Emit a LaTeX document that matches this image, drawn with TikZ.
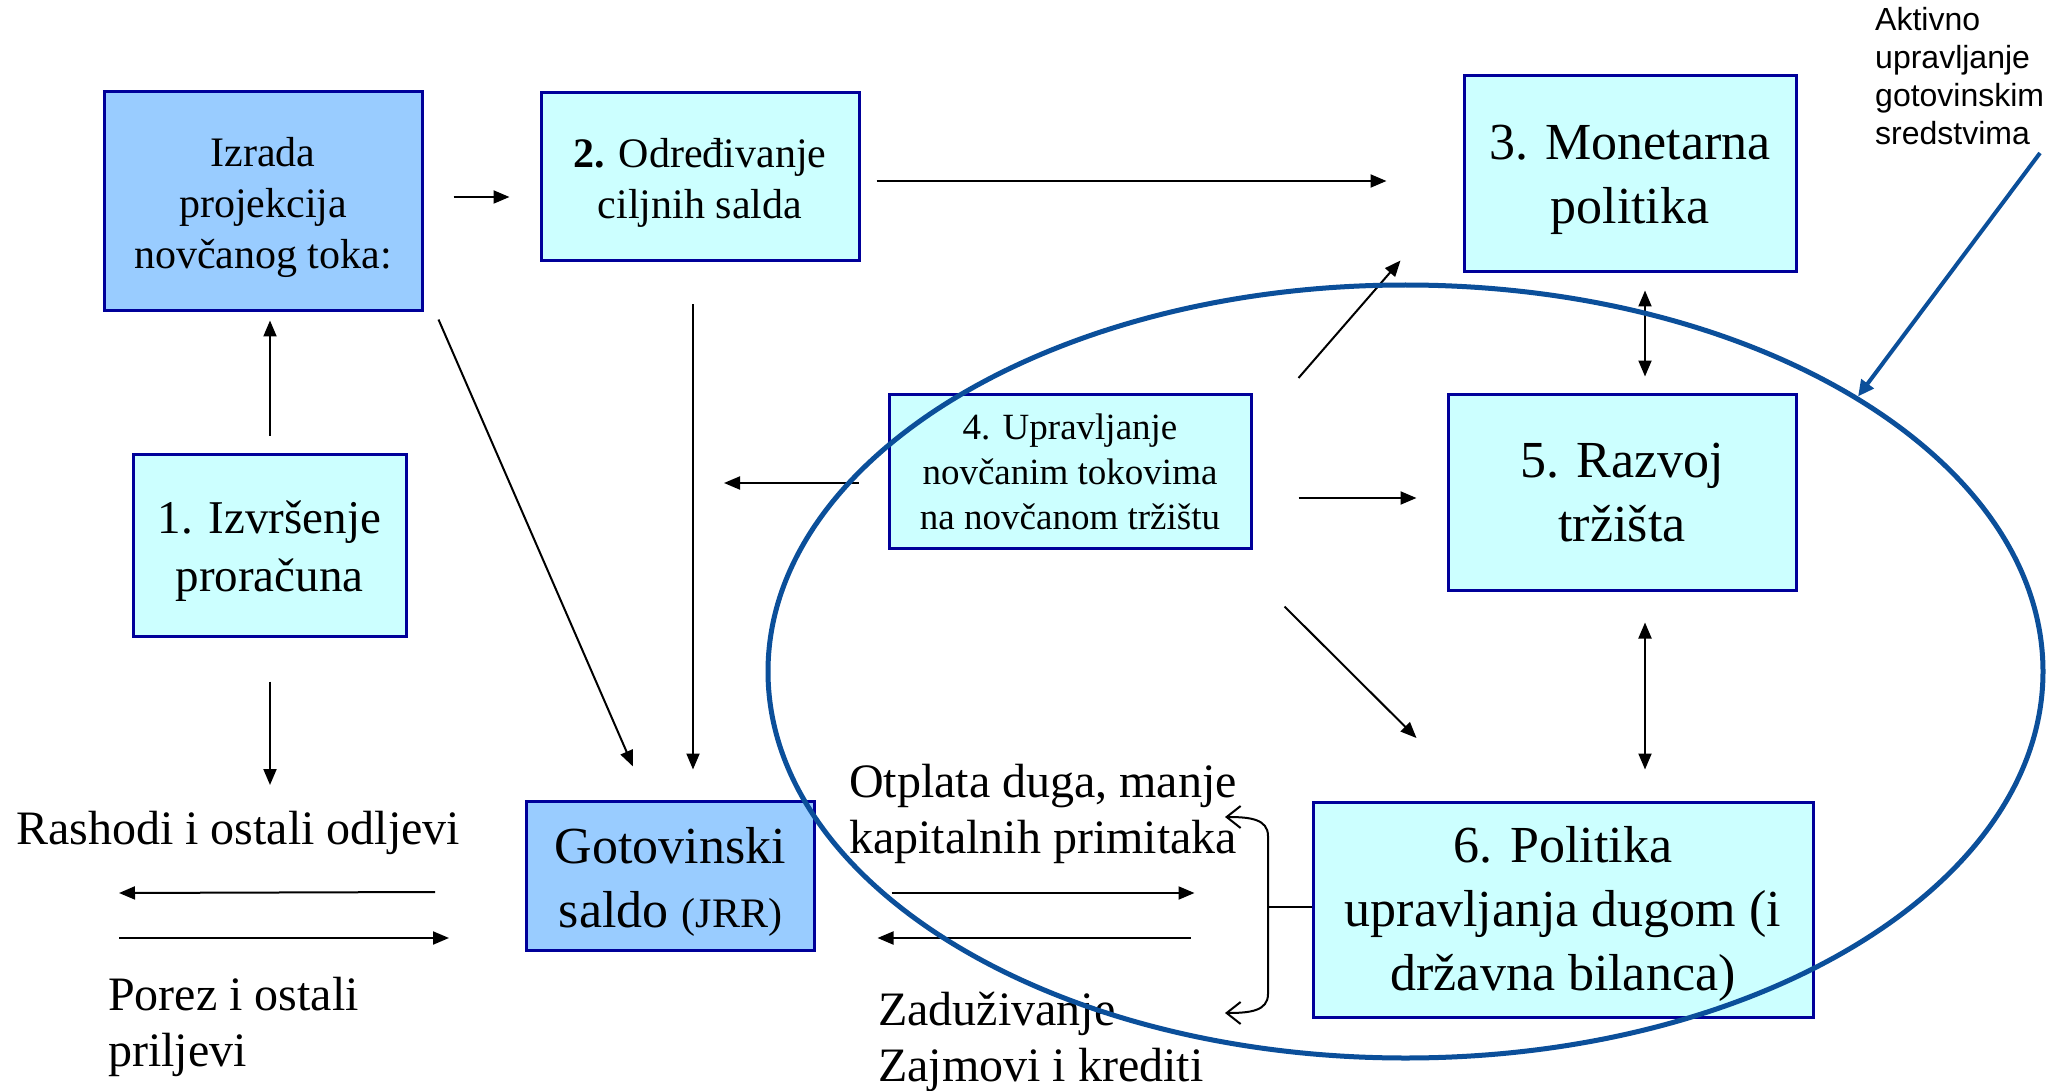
\documentclass[tikz,border=0pt]{standalone}
\usepackage{fontspec}
\setmainfont{Liberation Serif}
\newfontfamily\arialf{Liberation Sans}
\usetikzlibrary{arrows.meta,shapes.geometric}
\definecolor{boxcyan}{HTML}{CCFFFF}
\definecolor{boxblue}{HTML}{99CCFF}
\definecolor{boxline}{HTML}{000099}
\definecolor{ellblue}{HTML}{0B4F9A}
\begin{document}
\begin{tikzpicture}[x=1pt,y=-1pt,
  stepbox/.style={draw=boxline, line width=3pt, fill=boxcyan, inner sep=0pt},
  bluebox/.style={stepbox, fill=boxblue},
  txt/.style={align=center, inner sep=0pt},
  arr/.style={line width=2pt, -{Triangle[length=16pt,width=13pt]}},
  darr/.style={line width=2pt, {Triangle[length=16pt,width=13pt]}-{Triangle[length=16pt,width=13pt]}},
  barb/.style={line width=2pt, -{Straight Barb[length=14pt,width=22pt]}},
  lbl/.style={inner sep=0pt},
  bigf/.style={font=\fontsize{52}{64}\selectfont},
  smf/.style={font=\fontsize{42}{51}\selectfont},
  midf/.style={font=\fontsize{48}{56}\selectfont},
]
\useasboundingbox (0,0) rectangle (2059,1091);
\fill[white] (0,0) rectangle (2059,1091);

% boxes
\node[bluebox, minimum width=318pt, minimum height=219pt,
  label={[txt, smf, yshift=-6pt]center:{Izrada\\projekcija\\novčanog toka:}}] (izrada) at (263,201.5) {};
\node[stepbox, minimum width=318pt, minimum height=168pt,
  label={[txt, smf, yshift=-6pt]center:{\textbf{2.} Određivanje\\ciljnih salda}}] (ciljni) at (700,177) {};
\node[stepbox, minimum width=332pt, minimum height=196pt,
  label={[txt, bigf, yshift=-6pt]center:{3. Monetarna\\politika}}] (monet) at (1630,174) {};
\node[stepbox, minimum width=362pt, minimum height=154pt,
  label={[txt, font=\fontsize{37}{45}\selectfont, yshift=-1pt]center:{4. Upravljanje\\novčanim tokovima\\na novčanom tržištu}}] (upr) at (1070,471) {};
\node[stepbox, minimum width=348pt, minimum height=196pt,
  label={[txt, bigf, yshift=-1pt]center:{5. Razvoj\\tržišta}}] (razvoj) at (1622,492) {};
\node[stepbox, minimum width=273pt, minimum height=182pt,
  label={[txt, font=\fontsize{47}{58}\selectfont, yshift=-6pt]center:{1. Izvršenje\\proračuna}}] (izvr) at (269.5,545) {};
\node[bluebox, minimum width=288pt, minimum height=149pt,
  label={[txt, bigf, yshift=-6pt]center:{Gotovinski\\saldo {\fontsize{42}{64}\selectfont(JRR)}}}] (gotov) at (670.5,876) {};
\node[stepbox, minimum width=500pt, minimum height=215pt,
  label={[txt, bigf, yshift=-4pt]center:{6. Politika\\upravljanja dugom (i\\državna bilanca)}}] (dug) at (1563,910) {};

% free labels
\node[lbl, midf] (rashodi) at (238,833) {Rashodi i ostali odljevi};
\node[lbl, midf, anchor=west, align=left] (porez) at (108,1027) {Porez i ostali\\priljevi};
\node[lbl, midf, align=center] (otplata) at (1043,814) {Otplata duga, manje\\kapitalnih primitaka};
\node[lbl, midf, anchor=west, align=left] (zaduz) at (878,1042) {Zaduživanje\\Zajmovi i krediti};
\node[lbl, anchor=west, align=left, font=\arialf\fontsize{32}{38}\selectfont] (aktiv) at (1875,76) {Aktivno\\upravljanje\\gotovinskim\\sredstvima};

% connectors
\draw[arr] ([shift={(30,-4.5)}]izrada.east) -- ([shift={(-30,20)}]ciljni.west);
\draw[arr] ([shift={(16,4)}]ciljni.east) -- ([shift={(-76,7)}]monet.west);
\draw[arr] ([shift={(0.5,-17)}]izvr.north) -- ([shift={(7,8)}]izrada.south);
\draw[arr] ([shift={(15,7)}]izrada.south east) -- ([shift={(-37.5,-33.5)}]gotov.north);
\draw[arr] ([shift={(-7,42)}]ciljni.south) -- ([shift={(22.5,-30.5)}]gotov.north);
\coordinate (uprleft) at (724,483);
\draw[arr] ([shift={(-29,12)}]upr.west) -- (uprleft);
\draw[arr] ([shift={(46,27)}]upr.east) -- ([shift={(-30,6)}]razvoj.west);
\draw[arr] ([shift={(46,-93)}]upr.east) -- ([shift={(-62,-13)}]monet.south west);
\draw[arr] ([shift={(32,57)}]upr.south east) -- ([shift={(105,-63)}]dug.north west);
\draw[darr] ([shift={(15,17)}]monet.south) -- ([shift={(23,-16)}]razvoj.north);
\draw[darr] ([shift={(23,31)}]razvoj.south) -- ([shift={(82,-31.5)}]dug.north);
\coordinate (outflow) at (270,785);
\draw[arr] ([shift={(0.5,44)}]izvr.south) -- (outflow);

\coordinate (lpA) at (119,893);
\coordinate (lpB) at (119,938);
\draw[arr] ([shift={(-90,16)}]gotov.west) -- (lpA);
\draw[arr] (lpB) -- ([shift={(-76,62)}]gotov.west);
\draw[arr] ([shift={(75.5,17)}]gotov.east) -- ([shift={(-117,-17)}]dug.west);
\draw[arr] ([shift={(-121,28)}]dug.west) -- ([shift={(61.5,62)}]gotov.east);

% bracket
\coordinate (jn) at (1268,907);
\coordinate (btop) at (1225,817);
\coordinate (bbot) at (1225,1013);
\draw[line width=2pt] ([shift={(0,-3)}]dug.west) -- (jn);
\draw[barb] (jn) -- (1268,836) .. controls (1268,819) and (1250,817) .. (btop);
\draw[barb] (jn) -- (1268,994) .. controls (1268,1011) and (1250,1013) .. (bbot);

% ellipse and pointer
\node[draw=ellblue, line width=5pt, ellipse, minimum width=1275pt, minimum height=773pt, inner sep=0pt] (loop) at (1405.5,671.5) {};
\coordinate (ptrstart) at (2040,153);
\draw[ellblue, line width=4pt, -{Triangle[length=16pt,width=15pt]}] (ptrstart) -- (loop.north east);
\end{tikzpicture}
\end{document}
